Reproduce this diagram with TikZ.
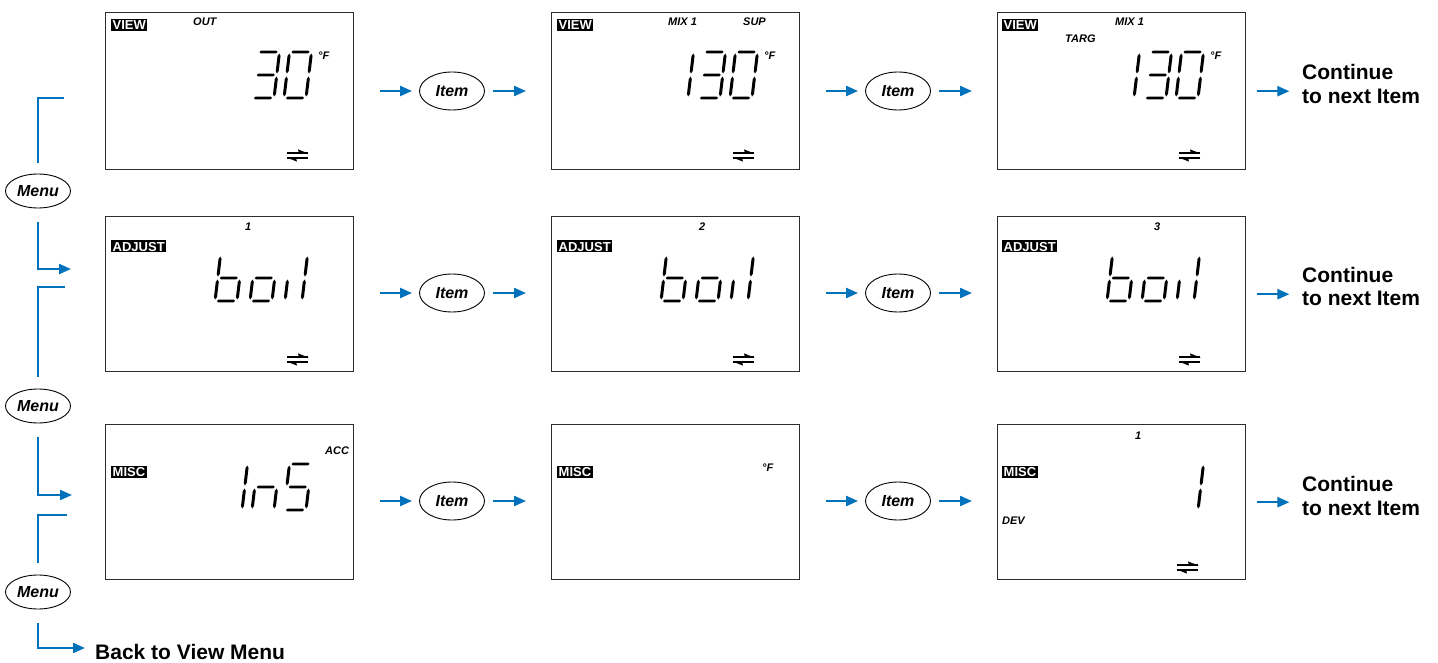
\documentclass[tikz,border=0pt]{standalone}
\usepackage{fontspec}
\setmainfont{Liberation Sans}
\usetikzlibrary{arrows.meta,shapes.geometric,calc}
\definecolor{flowblue}{RGB}{0,114,188}
\definecolor{boxgray}{RGB}{45,45,45}

% LCD segment helpers (units = px, y downwards)
\newcommand\lcdHS[3]{\fill (#1,#3) -- ({#1+1.45},{#3-1.45}) -- ({#2-1.45},{#3-1.45}) -- (#2,#3) -- ({#2-1.45},{#3+1.45}) -- ({#1+1.45},{#3+1.45}) -- cycle;}
\newcommand\lcdVS[3]{\fill (#1,#2) -- ({#1+1.5},{#2+2.5}) -- ({#1+1.5},{#3-2.5}) -- (#1,#3) -- ({#1-1.5},{#3-2.5}) -- ({#1-1.5},{#2+2.5}) -- cycle;}
\def\lsega{\lcdHS{2}{20}{-46}}
\def\lsegb{\lcdVS{22}{-44.5}{-24.5}}
\def\lsegc{\lcdVS{22}{-21.5}{-1.5}}
\def\lsegd{\lcdHS{2}{20}{0}}
\def\lsege{\lcdVS{0}{-21.5}{-1.5}}
\def\lsegf{\lcdVS{0}{-44.5}{-24.5}}
\def\lsegg{\lcdHS{2}{20}{-23}}
\newcommand\lcddigit[2]{\begin{scope}[shift={#1}]\begin{scope}[xslant=0.12]\foreach \s in {#2}{\csname lseg\s\endcsname}\end{scope}\end{scope}}
\newcommand\swapsym[1]{\begin{scope}[shift={#1}]
  \draw[line width=1.1pt] (0,0) -- (21,0);
  \fill (21.5,0.5) -- (11,-3.6) -- (12,0.5) -- cycle;
  \draw[line width=1.1pt] (0,5) -- (21,5);
  \fill (-0.5,4.5) -- (10,8.6) -- (9,4.5) -- cycle;
\end{scope}}

\tikzset{
  lcd/.style={draw=boxgray, line width=1.4pt, minimum width=248pt, minimum height=157pt, anchor=north west, inner sep=0pt},
  inv/.style={fill=black, text=white, font=\fontsize{13}{13}\selectfont\bfseries, inner xsep=1.5pt, inner ysep=1.3pt, text height=9.4pt, text depth=0pt, anchor=west},
  tag/.style={font=\fontsize{11}{11}\selectfont\bfseries\itshape, inner sep=0pt, anchor=west},
  btn/.style={ellipse, draw, line width=0.9pt, minimum width=65pt, minimum height=38pt, inner sep=0pt, font=\fontsize{16}{16}\selectfont\bfseries\itshape},
  menubtn/.style={btn, minimum height=34pt},
  flow/.style={draw=flowblue, line width=2.2pt},
  flowarrow/.style={flow, -{Triangle[length=12pt,width=10pt]}},
  note/.style={font=\fontsize{21}{24}\selectfont\bfseries, inner sep=0pt},
}

\begin{document}
\begin{tikzpicture}[x=1pt,y=-1pt]
\useasboundingbox (0,0) rectangle (1438,663);

% ---------- Row 1 ----------
\begin{scope}[shift={(105,12)}]
  \node[lcd] (v1) at (0,0) {};
  \node[inv] (v1a) at (6,13) {VIEW};
  \node[tag] (v1b) at (88,10) {OUT};
  \lcddigit{(147,86)}{a,b,c,d,g}
  \lcddigit{(179,86)}{a,b,c,d,e,f}
  \node[tag] (v1c) at (213,44) {°F};
  \swapsym{(182,141)}
\end{scope}
\begin{scope}[shift={(551,12)}]
  \node[lcd] (v2) at (0,0) {};
  \node[inv] (v2a) at (6,13) {VIEW};
  \node[tag] (v2b) at (117,10) {MIX 1};
  \node[tag] (v2c) at (192,10) {SUP};
  \lcddigit{(115,86)}{b,c}
  \lcddigit{(147,86)}{a,b,c,d,g}
  \lcddigit{(179,86)}{a,b,c,d,e,f}
  \node[tag] (v2d) at (213,44) {°F};
  \swapsym{(182,141)}
\end{scope}
\begin{scope}[shift={(997,12)}]
  \node[lcd] (v3) at (0,0) {};
  \node[inv] (v3a) at (5,13) {VIEW};
  \node[tag] (v3b) at (118,10) {MIX 1};
  \node[tag] (v3c) at (68,27) {TARG};
  \lcddigit{(115,86)}{b,c}
  \lcddigit{(147,86)}{a,b,c,d,g}
  \lcddigit{(179,86)}{a,b,c,d,e,f}
  \node[tag] (v3d) at (213,44) {°F};
  \swapsym{(182,141)}
\end{scope}

% ---------- Row 2 ----------
\begin{scope}[shift={(105,216)}]
  \node[lcd, minimum height=155pt] (a1) at (0,0) {};
  \node[inv] (a1a) at (6,30.5) {ADJUST};
  \node[tag] (a1b) at (140,11) {1};
  \lcddigit{(110,85)}{c,d,e,f,g}
  \lcddigit{(145,85)}{c,d,e,g}
  \lcddigit{(180,85)}{e}
  \lcddigit{(197,85)}{e,f}
  \swapsym{(182,141)}
\end{scope}
\begin{scope}[shift={(551,216)}]
  \node[lcd, minimum height=155pt] (a2) at (0,0) {};
  \node[inv] (a2a) at (6,30.5) {ADJUST};
  \node[tag] (a2b) at (148,11) {2};
  \lcddigit{(110,85)}{c,d,e,f,g}
  \lcddigit{(145,85)}{c,d,e,g}
  \lcddigit{(180,85)}{e}
  \lcddigit{(197,85)}{e,f}
  \swapsym{(182,141)}
\end{scope}
\begin{scope}[shift={(997,216)}]
  \node[lcd, minimum height=155pt] (a3) at (0,0) {};
  \node[inv] (a3a) at (5,30.5) {ADJUST};
  \node[tag] (a3b) at (157,11) {3};
  \lcddigit{(110,85)}{c,d,e,f,g}
  \lcddigit{(145,85)}{c,d,e,g}
  \lcddigit{(180,85)}{e}
  \lcddigit{(197,85)}{e,f}
  \swapsym{(182,141)}
\end{scope}

% ---------- Row 3 ----------
\begin{scope}[shift={(105,424)}]
  \node[lcd, minimum height=155pt] (m1b) at (0,0) {};
  \node[inv] (m1a) at (6,47.5) {MISC};
  \node[tag] (m1c) at (220,27) {ACC};
  \lcddigit{(115,86)}{b,c}
  \lcddigit{(147,86)}{c,e,g}
  \lcddigit{(179,86)}{a,f,g,c,d}
\end{scope}
\begin{scope}[shift={(551,424)}]
  \node[lcd, minimum height=155pt] (m2b) at (0,0) {};
  \node[inv] (m2a) at (6,47.5) {MISC};
  \node[tag] (m2c) at (211,44) {°F};
\end{scope}
\begin{scope}[shift={(997,424)}]
  \node[lcd, minimum height=155pt] (m3b) at (0,0) {};
  \node[tag] (m3c) at (138,12) {1};
  \node[inv] (m3a) at (5,47.5) {MISC};
  \node[tag] (m3d) at (5,97) {DEV};
  \lcddigit{(179,86)}{b,c}
  \swapsym{(180,141)}
\end{scope}

% ---------- Item buttons and arrows ----------
\node[btn] (i11) at (452,91) {Item};
\node[btn] (i12) at (898,91) {Item};
\node[btn] (i21) at (452,293) {Item};
\node[btn] (i22) at (898,293) {Item};
\node[btn] (i31) at (452,501) {Item};
\node[btn] (i32) at (898,501) {Item};

\foreach \L/\I/\R in {v1/i11/v2, v2/i12/v3, a1/i21/a2, a2/i22/a3, m1b/i31/m2b, m2b/i32/m3b}{
  \draw[flowarrow, shorten <=26pt, shorten >=7pt] (\I.west -| \L.east) -- (\I.west);
  \draw[flowarrow, shorten <=8.5pt, shorten >=25pt] (\I.east) -- (\I.east -| \R.west);
}

% ---------- Continue ----------
\node[note, anchor=base west] (c1) at (1302,80) {\begin{tabular}[t]{@{}l@{}}Continue\\to next Item\end{tabular}};
\node[note, anchor=base west] (c2) at (1302,282) {\begin{tabular}[t]{@{}l@{}}Continue\\to next Item\end{tabular}};
\node[note, anchor=base west] (c3) at (1302,491) {\begin{tabular}[t]{@{}l@{}}Continue\\to next Item\end{tabular}};
\draw[flowarrow, shorten <=11pt] (v3.east) -- ++(43,0);
\draw[flowarrow, shorten <=11pt] (a3.east) -- ++(43,0);
\draw[flowarrow, shorten <=11pt] (m3b.east) -- ++(43,0);

% ---------- Menu column ----------
\node[menubtn] (mn1) at (38,191) {Menu};
\node[menubtn] (mn2) at (38,406) {Menu};
\node[menubtn] (mn3) at (38,592) {Menu};
\coordinate (s1) at (64,98);
\coordinate (t1) at (71,269);
\coordinate (s2) at (65,287);
\coordinate (t2) at (72,495);
\coordinate (s3) at (67,515);
\coordinate (t3) at (85,648);
\draw[flow] (s1) -| ([yshift=11pt]mn1.north);
\draw[flowarrow] ([yshift=-14pt]mn1.south) |- (t1);
\draw[flow] (s2) -| ([yshift=12pt]mn2.north);
\draw[flowarrow] ([yshift=-14pt]mn2.south) |- (t2);
\draw[flow] (s3) -| ([yshift=12pt]mn3.north);
\draw[flowarrow] ([yshift=-14pt]mn3.south) |- (t3);
\node[note, anchor=base west] (back) at (95,659) {Back to View Menu};
\end{tikzpicture}
\end{document}
